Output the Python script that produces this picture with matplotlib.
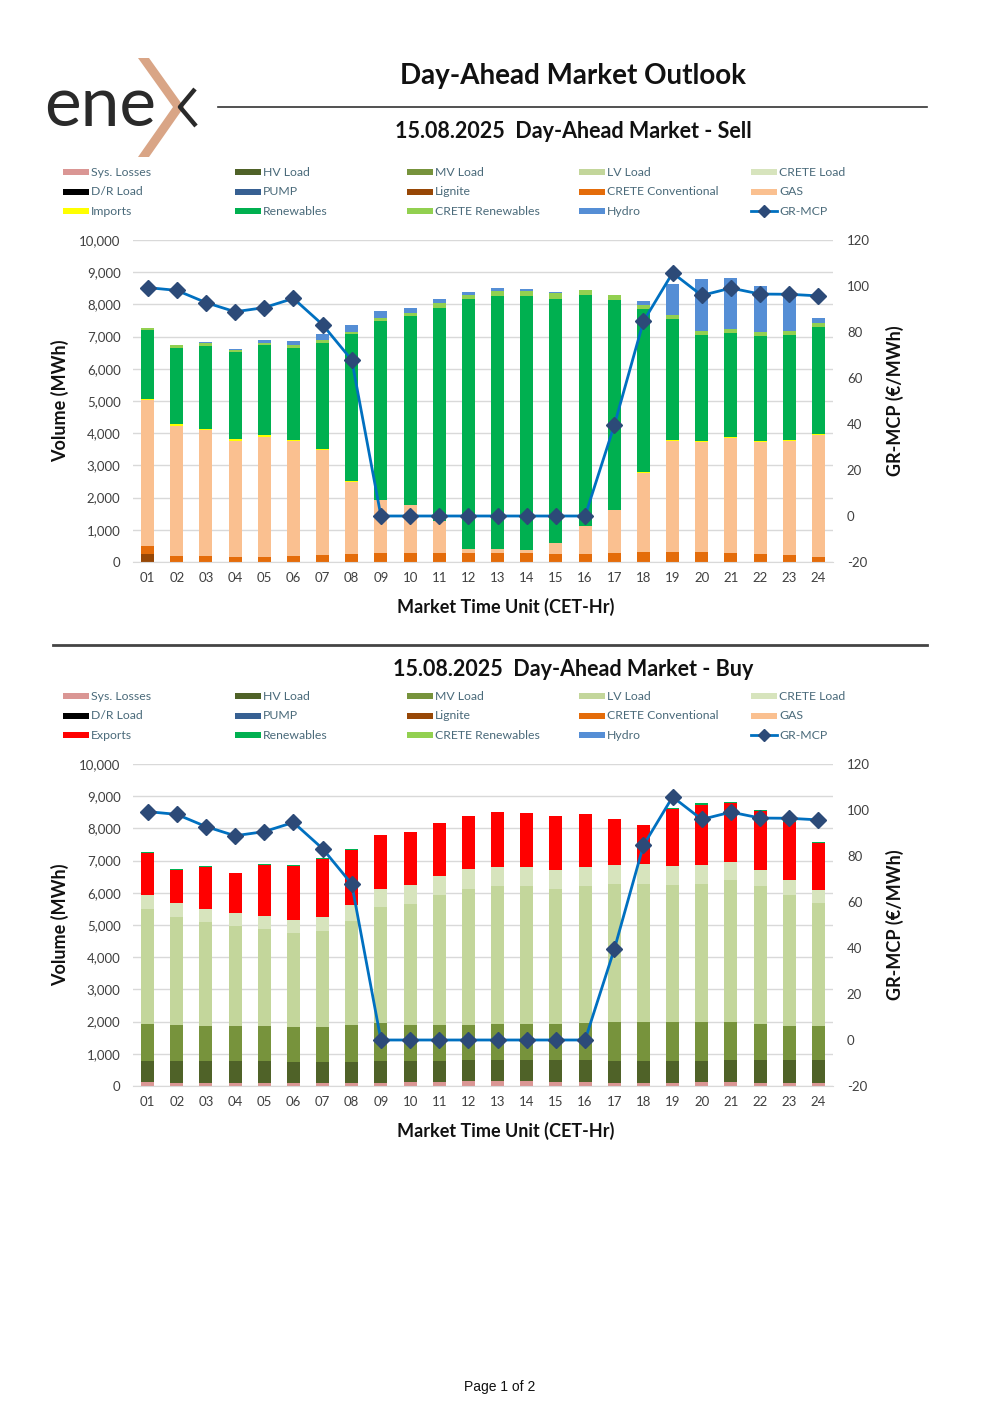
import numpy as np
import matplotlib
matplotlib.use("Agg")
import matplotlib.pyplot as plt
from matplotlib.patches import Rectangle, Polygon
from matplotlib.ticker import FuncFormatter, MultipleLocator

plt.rcParams['font.family'] = ['Lato', 'DejaVu Sans']
plt.rcParams['axes.unicode_minus'] = False

# --- Data ---
hours = ["01", "02", "03", "04", "05", "06", "07", "08", "09", "10", "11", "12",
         "13", "14", "15", "16", "17", "18", "19", "20", "21", "22", "23", "24"]

gr_mcp = [99.3, 98.1, 92.8, 88.8, 90.6, 94.6, 83.2, 67.8, 0, 0, 0, 0,
          0, 0, 0, 0, 39.4, 84.6, 105.7, 95.9, 99.1, 96.5, 96.4, 95.7]

# Sell side (MWh)
sell_lignite = [260, 0, 0, 0, 0, 0, 0, 0, 0, 0, 0, 0,
                0, 0, 0, 0, 0, 0, 0, 0, 0, 0, 0, 0]
sell_crete_conv = [248, 197, 176, 166, 166, 176, 228, 259, 280, 280, 280, 280,
                   290, 269, 259, 259, 269, 301, 311, 311, 269, 238, 207, 145]
sell_gas = [4508, 4041, 3928, 3596, 3730, 3586, 3244, 2228, 1658, 1492, 1005, 124,
            114, 114, 321, 850, 1358, 2476, 3451, 3430, 3586, 3503, 3555, 3793]
sell_imports = [41, 42, 41, 51, 52, 41, 41, 31, 0, 0, 0, 0,
                0, 0, 0, 0, 0, 31, 31, 31, 41, 31, 31, 41]
sell_renewables = [2135, 2373, 2570, 2705, 2777, 2850, 3295, 4549, 5554, 5865, 6611, 7751,
                   7845, 7876, 7596, 7171, 6508, 5037, 3741, 3275, 3213, 3233, 3254, 3327]
sell_crete_ren = [83, 83, 73, 52, 63, 72, 73, 83, 93, 104, 135, 146,
                  155, 166, 166, 176, 166, 134, 124, 114, 124, 125, 114, 103]
sell_hydro = [0, 0, 51, 52, 103, 135, 207, 208, 208, 155, 124, 82,
              93, 52, 41, 0, 0, 135, 974, 1616, 1596, 1450, 1077, 176]

# Buy side (MWh)
buy_sys_losses = [114, 93, 93, 93, 93, 83, 83, 83, 104, 124, 135, 155,
                  166, 145, 135, 124, 104, 104, 104, 114, 114, 104, 93, 93]
buy_hv = [674, 674, 674, 674, 674, 673, 663, 673, 684, 653, 653, 653,
          642, 663, 663, 684, 684, 684, 684, 674, 684, 704, 715, 715]
buy_mv = [1139, 1129, 1109, 1098, 1088, 1068, 1099, 1140, 1160, 1119, 1108, 1099,
          1104, 1109, 1119, 1140, 1212, 1212, 1212, 1212, 1192, 1119, 1068, 1068]
buy_lv = [3565, 3358, 3222, 3099, 3036, 2932, 2963, 3213, 3606, 3762, 4021, 4217,
          4301, 4280, 4207, 4270, 4269, 4280, 4249, 4280, 4414, 4280, 4041, 3803]
buy_crete = [446, 435, 405, 394, 404, 405, 446, 508, 550, 570, 591, 601,
             595, 601, 570, 580, 591, 601, 590, 590, 549, 508, 477, 414]
buy_exports = [1295, 1026, 1305, 1243, 1565, 1668, 1803, 1709, 1689, 1668, 1647, 1658,
               1689, 1679, 1689, 1658, 1441, 1212, 1762, 1866, 1845, 1834, 1813, 1461]
buy_renewables = [42, 31, 31, 21, 31, 31, 31, 32, 0, 0, 0, 0,
                  0, 0, 0, 0, 0, 21, 31, 41, 31, 31, 31, 31]

# --- Colours ---
C = {
    "Sys. Losses": "#DA9694", "HV Load": "#4F6228", "MV Load": "#77933C",
    "LV Load": "#C3D69B", "CRETE Load": "#D7E4BD", "D/R Load": "#000000",
    "PUMP": "#376092", "Lignite": "#974706", "CRETE Conventional": "#E46C0A",
    "GAS": "#FAC090", "Imports": "#FFFF00", "Exports": "#FF0000",
    "Renewables": "#00B050", "CRETE Renewables": "#92D050", "Hydro": "#558ED5",
}
LINE_C = "#0070C0"
MARK_C = "#2C4A78"
TEXT_C = "#404040"
LEG_C = "#4A6A7A"

W, H = 1000, 1415
fig = plt.figure(figsize=(10, 14.15), dpi=100)

# overlay in pixel coordinates for header, legends, labels
ov = fig.add_axes([0, 0, 1, 1])
ov.set_xlim(0, W)
ov.set_ylim(H, 0)
ov.axis("off")

# logo
ov.text(44, 106, "ene", fontsize=50, color="#2A2A2A", va="center", ha="left")
ov.add_patch(Polygon([(138, 58), (149, 58), (184, 107), (149, 157), (138, 157), (173, 107)],
                     closed=True, color="#D9A586", lw=0))
ov.plot([195, 180, 196], [89, 107, 126], color="#2A2A2A", lw=3.2, solid_capstyle="butt")

# titles / rules
ov.text(573, 76, "Day-Ahead Market Outlook", fontsize=20, fontweight="bold",
        ha="center", va="center", color="#111111")
ov.plot([218, 927], [107, 107], color="#333333", lw=1.2)
ov.plot([53, 927], [645, 645], color="#444444", lw=2)
ov.text(500, 1387, "Page 1 of 2", fontsize=10, ha="center", va="center",
        family=["Liberation Sans", "DejaVu Sans"], color="#111111")


def draw_legend(y0, third):
    rows = [["Sys. Losses", "HV Load", "MV Load", "LV Load", "CRETE Load"],
            ["D/R Load", "PUMP", "Lignite", "CRETE Conventional", "GAS"],
            [third, "Renewables", "CRETE Renewables", "Hydro", "GR-MCP"]]
    xs = [63, 235, 407, 579, 751]
    for r, row in enumerate(rows):
        y = y0 + r * 19.6
        for x, name in zip(xs, row):
            if name == "GR-MCP":
                ov.plot([x, x + 26], [y, y], color=LINE_C, lw=2)
                ov.plot([x + 13], [y], marker="D", color=MARK_C, ms=6.5)
            else:
                ov.add_patch(Rectangle((x, y - 3), 26, 6, color=C[name], lw=0))
            ov.text(x + 28, y, name, fontsize=8.8, color=LEG_C, va="center", ha="left")


def draw_panel(y_top, sub_y, subtitle, layers, third):
    ov.text(573, sub_y, subtitle, fontsize=15.5, fontweight="bold",
            ha="center", va="center", color="#111111")
    draw_legend(y_top - 68, third)

    ax = fig.add_axes([133 / W, 1 - (y_top + 322) / H, 700 / W, 322 / H])
    x = np.arange(len(hours))
    bottom = np.zeros(len(hours))
    for name, vals in layers:
        vals = np.array(vals, dtype=float)
        ax.bar(x, vals, bottom=bottom, width=0.45, color=C[name], lw=0, zorder=2)
        bottom += vals
    ax.set_xlim(-0.5, len(hours) - 0.5)
    ax.set_ylim(0, 10000)
    ax.yaxis.set_major_locator(MultipleLocator(1000))
    ax.yaxis.set_major_formatter(FuncFormatter(lambda v, p: f"{int(v):,}"))
    ax.grid(axis="y", color="#D9D9D9", lw=1)
    ax.set_axisbelow(True)
    ax.set_xticks(x)
    ax.set_xticklabels(hours)
    ax.tick_params(axis="y", length=0, pad=9, labelsize=9.5, labelcolor=TEXT_C)
    ax.tick_params(axis="x", length=0, pad=7, labelsize=9.5, labelcolor=TEXT_C)
    for s in ax.spines.values():
        s.set_visible(False)
    ax.spines["bottom"].set_visible(True)
    ax.spines["bottom"].set_color("#D9D9D9")

    ax2 = ax.twinx()
    ax2.plot(x, gr_mcp, color=LINE_C, lw=2, marker="D", ms=8,
             markerfacecolor=MARK_C, markeredgecolor=MARK_C, zorder=3)
    ax2.set_ylim(-20, 120)
    ax2.yaxis.set_major_locator(MultipleLocator(20))
    ax2.tick_params(axis="y", length=0, pad=10, labelsize=9.5, labelcolor=TEXT_C)
    for s in ax2.spines.values():
        s.set_visible(False)

    ov.text(60, y_top + 161, "Volume (MWh)", fontsize=13, fontweight="bold",
            rotation=90, ha="center", va="center", color="#111111")
    ov.text(895, y_top + 161, "GR-MCP (€/MWh)", fontsize=13, fontweight="bold",
            rotation=90, ha="center", va="center", color="#111111")
    ov.text(506, y_top + 367, "Market Time Unit (CET-Hr)", fontsize=13,
            fontweight="bold", ha="center", va="center", color="#111111")


sell_layers = [("Lignite", sell_lignite), ("CRETE Conventional", sell_crete_conv),
               ("GAS", sell_gas), ("Imports", sell_imports),
               ("Renewables", sell_renewables), ("CRETE Renewables", sell_crete_ren),
               ("Hydro", sell_hydro)]
buy_layers = [("Sys. Losses", buy_sys_losses), ("HV Load", buy_hv), ("MV Load", buy_mv),
              ("LV Load", buy_lv), ("CRETE Load", buy_crete), ("Exports", buy_exports),
              ("Renewables", buy_renewables)]

draw_panel(240, 131, "15.08.2025  Day-Ahead Market - Sell", sell_layers, "Imports")
draw_panel(764, 669, "15.08.2025  Day-Ahead Market - Buy", buy_layers, "Exports")

fig.savefig("out.png", dpi=100)
